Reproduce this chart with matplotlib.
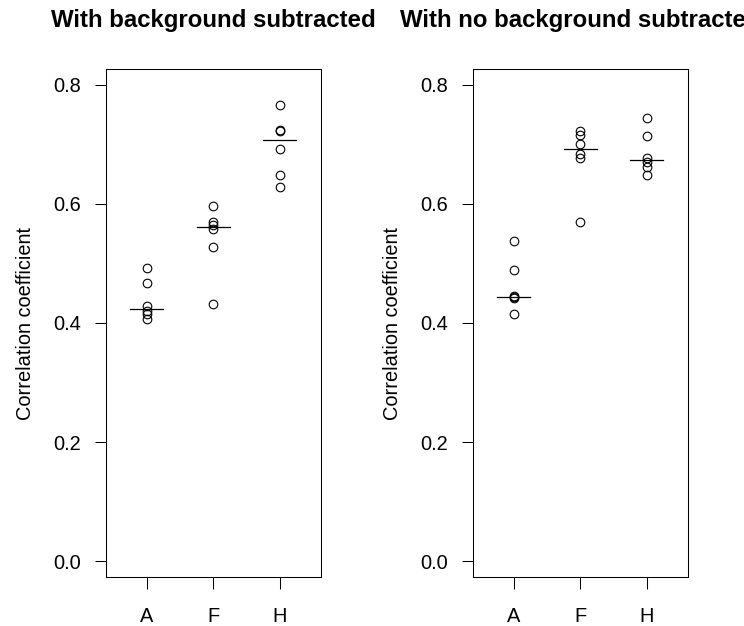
import numpy as np
import matplotlib
matplotlib.use("Agg")
import matplotlib.pyplot as plt

plt.rcParams['font.family'] = ['Liberation Sans', 'DejaVu Sans']

groups = ['A', 'F', 'H']

# correlation coefficients, background subtracted
sub_A = [0.492, 0.467, 0.428, 0.420, 0.415, 0.407]
sub_F = [0.596, 0.570, 0.565, 0.558, 0.527, 0.432]
sub_H = [0.765, 0.724, 0.722, 0.691, 0.649, 0.628]

# correlation coefficients, no background subtracted
raw_A = [0.538, 0.489, 0.445, 0.443, 0.442, 0.415]
raw_F = [0.722, 0.715, 0.700, 0.683, 0.676, 0.570]
raw_H = [0.744, 0.714, 0.677, 0.670, 0.662, 0.649]

titles = ['With background subtracted', 'With no background subtracted']
panels = [[sub_A, sub_F, sub_H], [raw_A, raw_F, raw_H]]

fig = plt.figure(figsize=(7.44, 6.26), dpi=100)
lefts = [105.7 / 744, 472.7 / 744]

for left, title, data in zip(lefts, titles, panels):
    ax = fig.add_axes([left, 49 / 626, 215 / 744, 508 / 626])
    for i, vals in enumerate(data):
        x = i + 1
        ax.plot([x] * len(vals), vals, 'o', mfc='none', mec='black',
                ms=6.2, mew=0.8, ls='none')
        # median bar
        med = np.median(vals)
        ax.plot([x - 0.25, x + 0.25], [med, med], color='black', lw=0.9)
    ax.set_xlim(0.38, 3.62)
    ax.set_ylim(-0.026, 0.826)
    ax.set_xticks([1, 2, 3])
    ax.set_xticklabels(groups)
    ax.set_yticks([0.0, 0.2, 0.4, 0.6, 0.8])
    ax.set_yticklabels(['0.0', '0.2', '0.4', '0.6', '0.8'])
    ax.tick_params(axis='y', length=8.2, width=0.75, pad=9.5, labelsize=14.4)
    ax.tick_params(axis='x', length=8.8, width=0.75, pad=12.5, labelsize=14.4)
    for s in ax.spines.values():
        s.set_linewidth(0.75)
    ax.set_ylabel('Correlation coefficient', fontsize=14.4)
    ax.yaxis.set_label_coords(-0.33, 0.5)
    ax.set_title(title, fontsize=17.3, fontweight='bold', pad=30)

fig.savefig('out.png', dpi=100)
